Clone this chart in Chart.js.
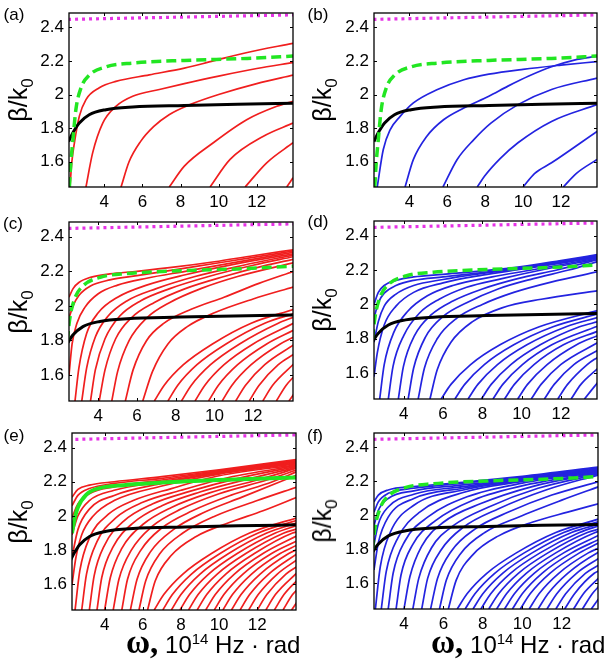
<!DOCTYPE html>
<html>
<head>
<meta charset="utf-8">
<script src="https://cdn.jsdelivr.net/npm/chart.js@4.4.1/dist/chart.umd.min.js"></script>
<style>
  body { margin: 0; background: #fff; }
  #wrap { position: relative; width: 609px; height: 667px; overflow: hidden; font-family: "Liberation Sans", Arial, sans-serif; color: #000; }
  canvas { position: absolute; }
  .plab { position: absolute; font-size: 17px; transform: translate(-50%, -50%); }
  .ytitle { position: absolute; font-size: 25px; white-space: nowrap; transform: translate(-50%, -50%) rotate(-90deg); }
  .ytitle sub { font-size: 17px; }
  .xtitle { position: absolute; font-size: 24px; white-space: nowrap; }
  .xtitle .w { font-family: "Liberation Serif", serif; font-weight: bold; font-size: 33px; }
  .xtitle sup { font-size: 15px; }
</style>
</head>
<body>
<div id="wrap"></div>
<script>
// tick labels
const yTicks = [1.6, 1.8, 2, 2.2, 2.4];
const xTicks = [4, 6, 8, 10, 12];

// curves shared by all panels (omega, beta/k0)
const magentaLine = [[2.1, 2.447], [6, 2.456], [10, 2.465], [14.1, 2.474]];
const blackLine = [[2.13, 1.72], [2.34, 1.77], [2.5, 1.8], [2.69, 1.831], [3.21, 1.88], [4.09, 1.91],
  [5.49, 1.926], [8.2, 1.935], [11, 1.942], [14.1, 1.948]];
const greenDashed = [[2.17, 1.45], [2.25, 1.6], [2.34, 1.71], [2.51, 1.91], [2.78, 2.04], [3.21, 2.115],
  [4.1, 2.165], [5.5, 2.187], [8.2, 2.203], [11.5, 2.215], [14.1, 2.23]];
const greenSolidE = [[2.29, 1.9], [2.4, 1.97], [2.6, 2.05], [3.04, 2.125], [3.74, 2.163], [5, 2.18],
  [7, 2.195], [10, 2.21], [14.1, 2.225]];

// (a) modes
const redA = [
  [[2.2, 1.45], [2.3, 1.6], [2.43, 1.71], [2.69, 1.87], [3.04, 1.97], [3.74, 2.04], [4.61, 2.078], [6.36, 2.117], [8.2, 2.157], [9.72, 2.2], [11.5, 2.25], [13.9, 2.305]],
  [[3.04, 1.45], [3.39, 1.653], [3.92, 1.83], [4.61, 1.93], [5.49, 1.99], [6.89, 2.03], [8.2, 2.065], [10, 2.11], [12, 2.155], [13.9, 2.19]],
  [[4.88, 1.45], [5.3, 1.6], [5.9, 1.72], [6.6, 1.81], [7.4, 1.88], [8.5, 1.94], [10, 2.0], [12, 2.065], [13.9, 2.115]],
  [[7.41, 1.45], [8.2, 1.574], [9.72, 1.713], [11.47, 1.85], [13.05, 1.93], [13.9, 1.96]],
  [[9.55, 1.45], [10.6, 1.614], [12.35, 1.752], [13.9, 1.83]],
  [[11.39, 1.45], [12.52, 1.594], [13.9, 1.713]],
  [[13.57, 1.45], [13.9, 1.505]]
];

// (b) modes
const blueB = [
  [[2.3, 1.45], [2.62, 1.673], [2.98, 1.79], [3.51, 1.87], [4.21, 1.95], [5.45, 2.028], [6.87, 2.088], [8.19, 2.121], [10, 2.15], [12, 2.175], [13.9, 2.196]],
  [[3.77, 1.45], [4.21, 1.614], [4.92, 1.752], [5.8, 1.85], [6.87, 1.92], [8.19, 1.99], [9.2, 2.05], [10.3, 2.11], [11.5, 2.165], [12.7, 2.205], [13.9, 2.228]],
  [[5.77, 1.45], [6.52, 1.614], [7.4, 1.732], [8.3, 1.83], [9.73, 1.94], [11.5, 2.03], [13.9, 2.098]],
  [[7.58, 1.45], [7.97, 1.515], [8.8, 1.62], [9.73, 1.713], [11.5, 1.84], [13.9, 1.94]],
  [[10.0, 1.45], [10.6, 1.53], [11.5, 1.594], [13.9, 1.781]],
  [[12.12, 1.45], [12.8, 1.53], [13.9, 1.614]]
];

// (c) modes
const redCUpper = [
  [[2.49, 2.05], [2.7, 2.1], [3.0, 2.135], [3.6, 2.165], [4.6, 2.185], [6, 2.2], [8, 2.225], [10, 2.255], [12, 2.29], [14.1, 2.325]],
  [[2.49, 1.93], [2.7, 2.0], [3.0, 2.06], [3.6, 2.115], [4.6, 2.15], [6, 2.175], [8, 2.21], [10, 2.245], [12, 2.28], [14.1, 2.318]],
  [[2.49, 1.6], [2.65, 1.78], [2.9, 1.9], [3.3, 1.99], [4, 2.07], [5, 2.12], [6.5, 2.16], [8.5, 2.2], [11, 2.25], [14.1, 2.31]],
  [[2.8, 1.45], [3.0, 1.64], [3.4, 1.84], [4, 1.96], [5, 2.05], [6.5, 2.12], [8.5, 2.18], [11, 2.24], [14.1, 2.302]],
  [[3.15, 1.45], [3.4, 1.64], [3.85, 1.82], [4.5, 1.94], [5.5, 2.03], [7, 2.1], [9, 2.17], [11.5, 2.235], [14.1, 2.295]],
  [[3.6, 1.45], [3.85, 1.63], [4.35, 1.81], [5.1, 1.94], [6.2, 2.03], [7.7, 2.1], [9.7, 2.17], [12, 2.235], [14.1, 2.285]],
  [[4.05, 1.45], [4.35, 1.63], [4.9, 1.81], [5.7, 1.93], [6.9, 2.02], [8.5, 2.1], [10.5, 2.17], [12.5, 2.23], [14.1, 2.27]],
  [[4.7, 1.45], [5.0, 1.62], [5.6, 1.8], [6.5, 1.93], [7.7, 2.02], [9.3, 2.1], [11.2, 2.17], [14.1, 2.25]],
  [[5.4, 1.45], [5.8, 1.63], [6.5, 1.8], [7.4, 1.9], [8.8, 1.98], [10.5, 2.05], [12.3, 2.13], [14.1, 2.2]],
  [[6.3, 1.45], [6.8, 1.62], [7.6, 1.78], [8.6, 1.88], [10, 1.96], [12, 2.04], [14.1, 2.11]]
];
const redCLower = [
  [[6.9, 1.45], [7.4, 1.54], [8.4, 1.66], [9.9, 1.78], [11.9, 1.9], [14.1, 1.98]],
  [[7.6, 1.45], [8.1, 1.54], [9.1, 1.66], [10.6, 1.78], [12.6, 1.9], [14.1, 1.955]],
  [[8.3, 1.45], [8.8, 1.54], [9.8, 1.66], [11.3, 1.78], [13.3, 1.9], [14.1, 1.935]],
  [[9.0, 1.45], [9.5, 1.54], [10.5, 1.66], [12.0, 1.78], [14.1, 1.9]],
  [[9.7, 1.45], [10.2, 1.54], [11.2, 1.66], [12.7, 1.78], [14.1, 1.86]],
  [[10.4, 1.45], [10.9, 1.54], [11.9, 1.66], [13.4, 1.78], [14.1, 1.82]],
  [[11.1, 1.45], [11.6, 1.54], [12.6, 1.66], [14.1, 1.775]],
  [[11.8, 1.45], [12.3, 1.54], [13.3, 1.66], [14.1, 1.72]],
  [[12.5, 1.45], [13.0, 1.54], [14.1, 1.665]],
  [[13.2, 1.45], [13.7, 1.54], [14.1, 1.59]],
  [[13.85, 1.45], [14.1, 1.49]]
];

// (d) modes
const blueDUpper = [
  [[2.48, 2.0], [2.7, 2.07], [3.0, 2.11], [3.6, 2.14], [4.5, 2.16], [6, 2.175], [8, 2.195], [10, 2.22], [12, 2.255], [13.9, 2.29]],
  [[2.48, 1.92], [2.7, 2.01], [3.0, 2.065], [3.6, 2.11], [4.5, 2.14], [6, 2.16], [8, 2.185], [10, 2.215], [12, 2.25], [13.9, 2.285]],
  [[2.48, 1.78], [2.7, 1.9], [3.0, 1.99], [3.6, 2.06], [4.5, 2.11], [6, 2.145], [8, 2.18], [10, 2.21], [12, 2.245], [13.9, 2.28]],
  [[2.48, 1.58], [2.65, 1.72], [3.0, 1.88], [3.6, 1.99], [4.5, 2.07], [6, 2.125], [8, 2.17], [10, 2.205], [12, 2.24], [13.9, 2.275]],
  [[2.77, 1.45], [3.0, 1.65], [3.5, 1.84], [4.2, 1.96], [5.2, 2.05], [6.5, 2.11], [8.5, 2.16], [10.5, 2.2], [13.9, 2.27]],
  [[3.21, 1.45], [3.45, 1.64], [4.0, 1.82], [4.8, 1.95], [5.8, 2.03], [7.2, 2.1], [9, 2.15], [11, 2.2], [13.9, 2.265]],
  [[3.72, 1.45], [3.98, 1.64], [4.55, 1.82], [5.4, 1.94], [6.5, 2.02], [8, 2.09], [9.8, 2.15], [11.8, 2.2], [13.9, 2.26]],
  [[4.22, 1.45], [4.5, 1.63], [5.1, 1.81], [6.0, 1.93], [7.2, 2.01], [8.8, 2.09], [10.6, 2.15], [12.4, 2.2], [13.9, 2.25]],
  [[4.73, 1.45], [5.05, 1.63], [5.7, 1.8], [6.7, 1.92], [8, 2.0], [9.6, 2.07], [11.5, 2.13], [13.9, 2.19]],
  [[5.33, 1.45], [5.7, 1.62], [6.4, 1.78], [7.5, 1.9], [9, 1.98], [11, 2.03], [13.9, 2.08]]
];
const blueDLower = [
  [[5.9, 1.45], [6.4, 1.535], [7.4, 1.65], [8.9, 1.765], [10.9, 1.87], [13.9, 1.965]],
  [[6.6, 1.45], [7.1, 1.535], [8.1, 1.65], [9.6, 1.765], [11.6, 1.87], [13.9, 1.945]],
  [[7.27, 1.45], [7.77, 1.535], [8.77, 1.65], [10.27, 1.765], [12.27, 1.87], [13.9, 1.925]],
  [[7.95, 1.45], [8.45, 1.535], [9.45, 1.65], [10.95, 1.765], [12.95, 1.87], [13.9, 1.9]],
  [[8.54, 1.45], [9.04, 1.535], [10.04, 1.65], [11.54, 1.765], [13.9, 1.875]],
  [[9.13, 1.45], [9.63, 1.535], [10.63, 1.65], [12.13, 1.765], [13.9, 1.845]],
  [[9.8, 1.45], [10.3, 1.535], [11.3, 1.65], [12.8, 1.765], [13.9, 1.82]],
  [[10.49, 1.45], [10.99, 1.535], [11.99, 1.65], [13.9, 1.78]],
  [[11.16, 1.45], [11.66, 1.535], [12.66, 1.65], [13.9, 1.735]],
  [[11.84, 1.45], [12.34, 1.535], [13.34, 1.65], [13.9, 1.695]],
  [[12.52, 1.45], [13.02, 1.535], [13.9, 1.63]],
  [[13.2, 1.45], [13.9, 1.55]]
];

// (e) modes
const redEUpper = [
  [[2.29, 2.11], [2.6, 2.155], [3.2, 2.18], [4.5, 2.2], [7, 2.23], [10, 2.27], [14.1, 2.33]],
  [[2.29, 2.06], [2.6, 2.12], [3.2, 2.16], [4.5, 2.19], [7, 2.22], [10, 2.265], [14.1, 2.325]],
  [[2.29, 1.99], [2.6, 2.07], [3.2, 2.13], [4.5, 2.17], [7, 2.21], [10, 2.26], [14.1, 2.32]],
  [[2.29, 1.89], [2.6, 2.0], [3.2, 2.09], [4.5, 2.15], [7, 2.2], [10, 2.255], [14.1, 2.315]],
  [[2.29, 1.76], [2.6, 1.92], [3.2, 2.04], [4.5, 2.12], [7, 2.19], [10, 2.25], [14.1, 2.31]],
  [[2.29, 1.6], [2.5, 1.76], [2.8, 1.89], [3.4, 2.0], [4.5, 2.09], [7, 2.175], [10, 2.245], [14.1, 2.305]],
  [[2.45, 1.45], [2.7, 1.68], [3.2, 1.87], [4.2, 2.01], [5.5, 2.09], [7.5, 2.16], [10, 2.235], [14.1, 2.3]],
  [[2.8, 1.45], [3.05, 1.66], [3.6, 1.85], [4.6, 1.99], [6, 2.08], [8, 2.15], [10.5, 2.225], [14.1, 2.295]],
  [[3.2, 1.45], [3.45, 1.65], [4.0, 1.83], [5.0, 1.97], [6.5, 2.07], [8.5, 2.145], [11, 2.22], [14.1, 2.29]],
  [[3.6, 1.45], [3.85, 1.64], [4.45, 1.82], [5.5, 1.96], [7, 2.06], [9, 2.14], [11.5, 2.215], [14.1, 2.285]],
  [[4.0, 1.45], [4.3, 1.64], [4.9, 1.81], [6, 1.95], [7.5, 2.05], [9.5, 2.135], [12, 2.21], [14.1, 2.28]],
  [[4.45, 1.45], [4.75, 1.63], [5.4, 1.8], [6.5, 1.94], [8, 2.04], [10, 2.13], [12.5, 2.21], [14.1, 2.27]],
  [[4.9, 1.45], [5.2, 1.63], [5.9, 1.8], [7, 1.93], [8.6, 2.03], [10.6, 2.12], [12.8, 2.2], [14.1, 2.26]],
  [[5.35, 1.45], [5.7, 1.63], [6.4, 1.79], [7.6, 1.92], [9.2, 2.02], [11.2, 2.11], [14.1, 2.24]],
  [[5.8, 1.45], [6.15, 1.62], [6.9, 1.78], [8.1, 1.9], [9.8, 2.0], [12, 2.09], [14.1, 2.17]],
  [[6.25, 1.45], [6.65, 1.62], [7.5, 1.77], [8.8, 1.88], [10.5, 1.96], [12.3, 2.03], [14.1, 2.11]]
];
const redELower = [
  [[6.6, 1.45], [7.1, 1.54], [8.1, 1.66], [9.6, 1.78], [11.6, 1.9], [14.1, 1.99]],
  [[7.05, 1.45], [7.55, 1.54], [8.55, 1.66], [10.05, 1.78], [12.05, 1.9], [14.1, 1.975]],
  [[7.5, 1.45], [8.0, 1.54], [9.0, 1.66], [10.5, 1.78], [12.5, 1.9], [14.1, 1.96]],
  [[7.95, 1.45], [8.45, 1.54], [9.45, 1.66], [10.95, 1.78], [12.95, 1.9], [14.1, 1.945]],
  [[8.4, 1.45], [8.9, 1.54], [9.9, 1.66], [11.4, 1.78], [13.4, 1.9], [14.1, 1.925]],
  [[8.85, 1.45], [9.35, 1.54], [10.35, 1.66], [11.85, 1.78], [13.85, 1.9], [14.1, 1.907]],
  [[9.3, 1.45], [9.8, 1.54], [10.8, 1.66], [12.3, 1.78], [14.1, 1.885]],
  [[9.75, 1.45], [10.25, 1.54], [11.25, 1.66], [12.75, 1.78], [14.1, 1.855]],
  [[10.2, 1.45], [10.7, 1.54], [11.7, 1.66], [13.2, 1.78], [14.1, 1.83]],
  [[10.65, 1.45], [11.15, 1.54], [12.15, 1.66], [13.65, 1.78], [14.1, 1.805]],
  [[11.1, 1.45], [11.6, 1.54], [12.6, 1.66], [14.1, 1.78]],
  [[11.55, 1.45], [12.05, 1.54], [13.05, 1.66], [14.1, 1.745]],
  [[12.0, 1.45], [12.5, 1.54], [13.5, 1.66], [14.1, 1.705]],
  [[12.45, 1.45], [12.95, 1.54], [14.1, 1.67]],
  [[12.9, 1.45], [13.4, 1.54], [14.1, 1.625]],
  [[13.35, 1.45], [13.85, 1.54], [14.1, 1.57]],
  [[13.8, 1.45], [14.1, 1.5]]
];

// (f) modes
const blueFUpper = [
  [[2.48, 2.08], [2.7, 2.12], [3.2, 2.15], [4.5, 2.17], [7, 2.195], [10, 2.23], [13.9, 2.285]],
  [[2.48, 2.02], [2.7, 2.08], [3.2, 2.13], [4.5, 2.16], [7, 2.19], [10, 2.225], [13.9, 2.28]],
  [[2.48, 1.94], [2.7, 2.03], [3.2, 2.1], [4.5, 2.145], [7, 2.18], [10, 2.22], [13.9, 2.275]],
  [[2.48, 1.83], [2.7, 1.95], [3.2, 2.05], [4.5, 2.125], [7, 2.17], [10, 2.215], [13.9, 2.27]],
  [[2.48, 1.68], [2.7, 1.84], [3.2, 1.99], [4.5, 2.1], [7, 2.16], [10, 2.21], [13.9, 2.265]],
  [[2.55, 1.45], [2.8, 1.7], [3.3, 1.9], [4.5, 2.06], [7, 2.15], [10, 2.205], [13.9, 2.26]],
  [[2.85, 1.45], [3.1, 1.67], [3.7, 1.87], [4.8, 2.02], [7, 2.135], [10, 2.2], [13.9, 2.26]],
  [[3.2, 1.45], [3.45, 1.66], [4.05, 1.85], [5.2, 1.99], [7.2, 2.11], [10, 2.19], [13.9, 2.255]],
  [[3.6, 1.45], [3.85, 1.65], [4.45, 1.83], [5.6, 1.97], [7.5, 2.09], [10.2, 2.18], [13.9, 2.25]],
  [[4.0, 1.45], [4.3, 1.64], [4.9, 1.82], [6, 1.96], [7.9, 2.07], [10.5, 2.17], [13.9, 2.25]],
  [[4.45, 1.45], [4.75, 1.63], [5.4, 1.81], [6.5, 1.94], [8.3, 2.05], [10.8, 2.16], [13.9, 2.245]],
  [[4.9, 1.45], [5.2, 1.63], [5.9, 1.8], [7, 1.93], [8.8, 2.04], [11.2, 2.15], [13.9, 2.24]],
  [[5.35, 1.45], [5.7, 1.63], [6.4, 1.79], [7.6, 1.92], [9.3, 2.02], [11.5, 2.12], [13.9, 2.2]],
  [[5.8, 1.45], [6.15, 1.62], [6.9, 1.78], [8.1, 1.9], [9.8, 1.99], [12, 2.09], [13.9, 2.17]],
  [[6.25, 1.45], [6.65, 1.62], [7.5, 1.77], [8.8, 1.88], [10.5, 1.96], [12.3, 2.02], [13.9, 2.07]]
];
const blueFLower = [
  [[6.7, 1.45], [7.2, 1.54], [8.2, 1.66], [9.7, 1.78], [11.7, 1.9], [13.9, 1.98]],
  [[7.1, 1.45], [7.6, 1.54], [8.6, 1.66], [10.1, 1.78], [12.1, 1.9], [13.9, 1.965]],
  [[7.5, 1.45], [8.0, 1.54], [9.0, 1.66], [10.5, 1.78], [12.5, 1.9], [13.9, 1.95]],
  [[7.9, 1.45], [8.4, 1.54], [9.4, 1.66], [10.9, 1.78], [12.9, 1.9], [13.9, 1.94]],
  [[8.3, 1.45], [8.8, 1.54], [9.8, 1.66], [11.3, 1.78], [13.3, 1.9], [13.9, 1.92]],
  [[8.7, 1.45], [9.2, 1.54], [10.2, 1.66], [11.7, 1.78], [13.7, 1.9], [13.9, 1.907]],
  [[9.1, 1.45], [9.6, 1.54], [10.6, 1.66], [12.1, 1.78], [13.9, 1.885]],
  [[9.5, 1.45], [10.0, 1.54], [11.0, 1.66], [12.5, 1.78], [13.9, 1.86]],
  [[9.9, 1.45], [10.4, 1.54], [11.4, 1.66], [12.9, 1.78], [13.9, 1.84]],
  [[10.35, 1.45], [10.85, 1.54], [11.85, 1.66], [13.35, 1.78], [13.9, 1.81]],
  [[10.8, 1.45], [11.3, 1.54], [12.3, 1.66], [13.8, 1.78], [13.9, 1.785]],
  [[11.25, 1.45], [11.75, 1.54], [12.75, 1.66], [13.9, 1.75]],
  [[11.7, 1.45], [12.2, 1.54], [13.2, 1.66], [13.9, 1.71]],
  [[12.15, 1.45], [12.65, 1.54], [13.65, 1.66], [13.9, 1.675]],
  [[12.6, 1.45], [13.1, 1.54], [13.9, 1.635]],
  [[13.05, 1.45], [13.55, 1.54], [13.9, 1.585]],
  [[13.5, 1.45], [13.9, 1.515]]
];

const RED = '#f01e1e';
const BLUE = '#2323e0';
const GREEN = '#22e622';
const MAGENTA = '#e632e6';

const panels = [
  { tag: '(a)', left: 69, top: 13, w: 224, h: 174, xr: [2.15, 13.9], modes: redA, color: RED, solidGreen: false },
  { tag: '(b)', left: 374, top: 13, w: 223, h: 174, xr: [2.13, 13.9], modes: blueB, color: BLUE, solidGreen: false },
  { tag: '(c)', left: 69, top: 222, w: 224, h: 179, xr: [2.49, 14.06], modes: redCUpper.concat(redCLower), color: RED, solidGreen: false },
  { tag: '(d)', left: 374, top: 221, w: 223, h: 178, xr: [2.48, 13.84], modes: blueDUpper.concat(blueDLower), color: BLUE, solidGreen: false },
  { tag: '(e)', left: 72, top: 433, w: 224, h: 177, xr: [2.29, 14.03], modes: redEUpper.concat(redELower), color: RED, solidGreen: true },
  { tag: '(f)', left: 374, top: 433, w: 224, h: 176, xr: [2.48, 13.84], modes: blueFUpper.concat(blueFLower), color: BLUE, solidGreen: false }
];

const tagPos = [[14, 15], [318, 15], [13, 224], [318, 222], [14, 436], [315, 436]];

Chart.defaults.font.family = '"Liberation Sans", Arial, sans-serif';
Chart.defaults.color = '#000';

function pts(a) {
  return a.map(p => ({ x: p[0], y: p[1] }));
}

function line(data, color, width, dash) {
  return {
    data: pts(data),
    borderColor: color,
    borderWidth: width,
    borderDash: dash || [],
    borderCapStyle: 'butt',
    pointRadius: 0,
    fill: false,
    cubicInterpolationMode: 'monotone'
  };
}

// full box with inward tick marks
const boxPlugin = {
  id: 'box',
  afterDraw(chart) {
    const { ctx, chartArea: a, scales } = chart;
    ctx.save();
    ctx.strokeStyle = '#000';
    ctx.lineWidth = 1.3;
    ctx.strokeRect(a.left, a.top, a.right - a.left, a.bottom - a.top);
    ctx.lineWidth = 1;
    ctx.beginPath();
    xTicks.forEach(v => {
      const px = Math.round(scales.x.getPixelForValue(v)) + 0.5;
      ctx.moveTo(px, a.bottom); ctx.lineTo(px, a.bottom - 3);
      ctx.moveTo(px, a.top); ctx.lineTo(px, a.top + 3);
    });
    yTicks.forEach(v => {
      const py = Math.round(scales.y.getPixelForValue(v)) + 0.5;
      ctx.moveTo(a.left, py); ctx.lineTo(a.left + 3, py);
      ctx.moveTo(a.right, py); ctx.lineTo(a.right - 3, py);
    });
    ctx.stroke();
    ctx.restore();
  }
};

function noPad(s) {
  s.paddingTop = 0; s.paddingBottom = 0; s.paddingLeft = 0; s.paddingRight = 0;
}

const wrap = document.getElementById('wrap');
const PADL = 50, PADT = 8, PADR = 8, PADB = 30;

panels.forEach((p, i) => {
  const cv = document.createElement('canvas');
  cv.width = p.w + PADL + PADR;
  cv.height = p.h + PADT + PADB;
  cv.style.left = (p.left - PADL) + 'px';
  cv.style.top = (p.top - PADT) + 'px';
  wrap.appendChild(cv);

  const datasets = [
    line(magentaLine, MAGENTA, 3.2, [3, 4]),
    p.solidGreen ? line(greenSolidE, GREEN, 4) : line(greenDashed, GREEN, 3.5, [10, 5]),
    line(blackLine, '#000', 3)
  ];
  p.modes.forEach(m => datasets.push(line(m, p.color, 1.7)));

  new Chart(cv, {
    type: 'line',
    data: { datasets },
    options: {
      responsive: false,
      animation: false,
      devicePixelRatio: 1,
      layout: { autoPadding: false, padding: { left: 0, top: PADT, right: PADR, bottom: 0 } },
      plugins: { legend: { display: false }, tooltip: { enabled: false } },
      scales: {
        x: {
          type: 'linear',
          min: p.xr[0],
          max: p.xr[1],
          grid: { display: false, drawTicks: false },
          border: { display: false },
          ticks: { font: { size: 17 }, padding: 5, maxRotation: 0, callback: v => String(v) },
          afterBuildTicks: s => { s.ticks = xTicks.map(v => ({ value: v })); },
          afterFit: s => { s.height = PADB; noPad(s); }
        },
        y: {
          type: 'linear',
          min: 1.45,
          max: 2.485,
          grid: { display: false, drawTicks: false },
          border: { display: false },
          ticks: { font: { size: 17 }, padding: 5, callback: v => String(v) },
          afterBuildTicks: s => { s.ticks = yTicks.map(v => ({ value: v })); },
          afterFit: s => { s.width = PADL; noPad(s); }
        }
      }
    },
    plugins: [boxPlugin]
  });

  const tag = document.createElement('div');
  tag.className = 'plab';
  tag.style.left = tagPos[i][0] + 'px';
  tag.style.top = tagPos[i][1] + 'px';
  tag.textContent = p.tag;
  wrap.appendChild(tag);

  const yt = document.createElement('div');
  yt.className = 'ytitle';
  yt.style.left = (i % 2 === 0 ? 21 : 325) + 'px';
  yt.style.top = (p.top + p.h / 2) + 'px';
  yt.innerHTML = 'β/k<sub>0</sub>';
  wrap.appendChild(yt);
});

[126, 431].forEach(x => {
  const xt = document.createElement('div');
  xt.className = 'xtitle';
  xt.style.left = x + 'px';
  xt.style.top = '624px';
  xt.innerHTML = '<span class="w">ω,</span> 10<sup>14</sup> Hz · rad';
  wrap.appendChild(xt);
});
</script>
</body>
</html>
